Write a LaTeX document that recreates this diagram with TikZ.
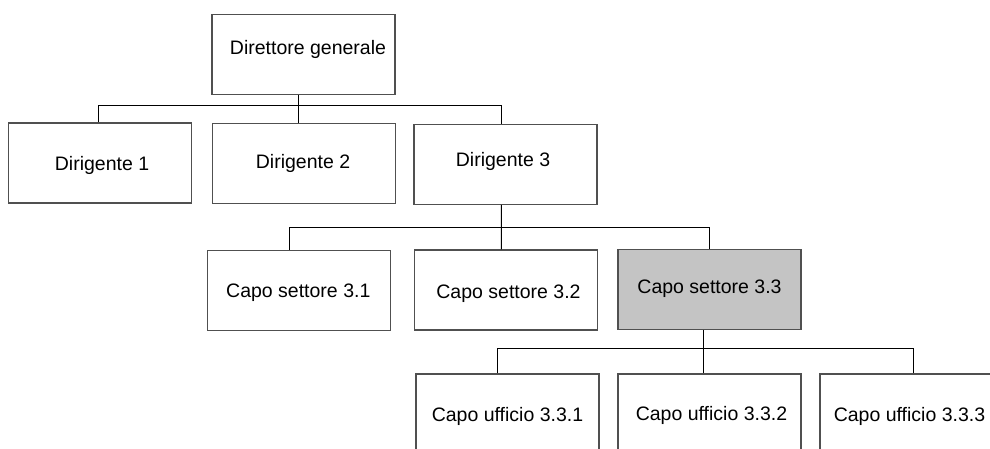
\documentclass[tikz,border=0pt]{standalone}
\usepackage{fontspec}
\setmainfont{Liberation Sans}
\usetikzlibrary{calc}
\definecolor{boxgray}{RGB}{196,196,196}
\definecolor{edgegray}{RGB}{80,80,80}
\tikzset{
  orgbox/.style={draw=edgegray, line width=1.3pt, fill=white, minimum width=183pt, minimum height=80pt, inner sep=0pt},
  hilite/.style={fill=boxgray},
  lbl/.style={font=\fontsize{19.5}{23}\selectfont, text height=14pt, text depth=0pt, inner sep=0pt, text=black},
  conn/.style={draw=black, line width=1pt}
}
\begin{document}
\begin{tikzpicture}[x=1pt, y=-1pt]
\useasboundingbox (0,0) rectangle (990,448);
\fill[white] (0,0) rectangle (990,448);

\coordinate (dgc) at (303.4,54.3);
\coordinate (d1c) at (100.3,163);
\coordinate (d2c) at (303.7,163.3);
\coordinate (d3c) at (505.4,164.2);
\coordinate (cs1c) at (299,290.5);
\coordinate (cs2c) at (506,290);
\coordinate (cs3c) at (709.5,289.7);
\coordinate (cu1c) at (507.5,414);
\coordinate (cu2c) at (709.5,414);
\coordinate (cu3c) at (911.5,414);

\node[orgbox, label={[lbl, xshift=4.6pt, yshift=6.6pt]center:Direttore generale}] (dg) at (dgc) {};
\node[orgbox, label={[lbl, xshift=1.7pt]center:Dirigente 1}] (d1) at (d1c) {};
\node[orgbox, label={[lbl, xshift=-0.7pt, yshift=1.6pt]center:Dirigente 2}] (d2) at (d2c) {};
\node[orgbox, label={[lbl, xshift=-2.4pt, yshift=4.9pt]center:Dirigente 3}] (d3) at (d3c) {};
\node[orgbox, label={[lbl, xshift=-0.7pt]center:Capo settore 3.1}] (cs1) at (cs1c) {};
\node[orgbox, label={[lbl, xshift=2.5pt, yshift=-1.5pt]center:Capo settore 3.2}] (cs2) at (cs2c) {};
\node[orgbox, hilite, label={[lbl, yshift=3.7pt]center:Capo settore 3.3}] (cs3) at (cs3c) {};
\node[orgbox, label={[lbl]center:Capo ufficio 3.3.1}] (cu1) at (cu1c) {};
\node[orgbox, label={[lbl, xshift=2pt, yshift=1pt]center:Capo ufficio 3.3.2}] (cu2) at (cu2c) {};
\node[orgbox, label={[lbl, xshift=-2pt]center:Capo ufficio 3.3.3}] (cu3) at (cu3c) {};

% level 1
\draw[conn] ([xshift=-4.7pt]dg.south) -- ([xshift=-5pt]d2.north);
\draw[conn] ([xshift=-1.6pt]d1.north) -- ++(0,-16.5) -| ([xshift=-3.7pt]d3.north);
% level 2
\draw[conn] ([xshift=-4.1pt]d3.south) -- ([xshift=-4.7pt]cs2.north);
\draw[conn] ([xshift=-9.7pt]cs1.north) -- ++(0,-22) -| (cs3.north);
% level 3
\draw[conn] ([xshift=-5.8pt]cs3.south) -- ([xshift=-5.8pt]cu2.north);
\draw[conn] ([xshift=-10.2pt]cu1.north) -- ++(0,-25) -| ([xshift=1.8pt]cu3.north);
\end{tikzpicture}
\end{document}
